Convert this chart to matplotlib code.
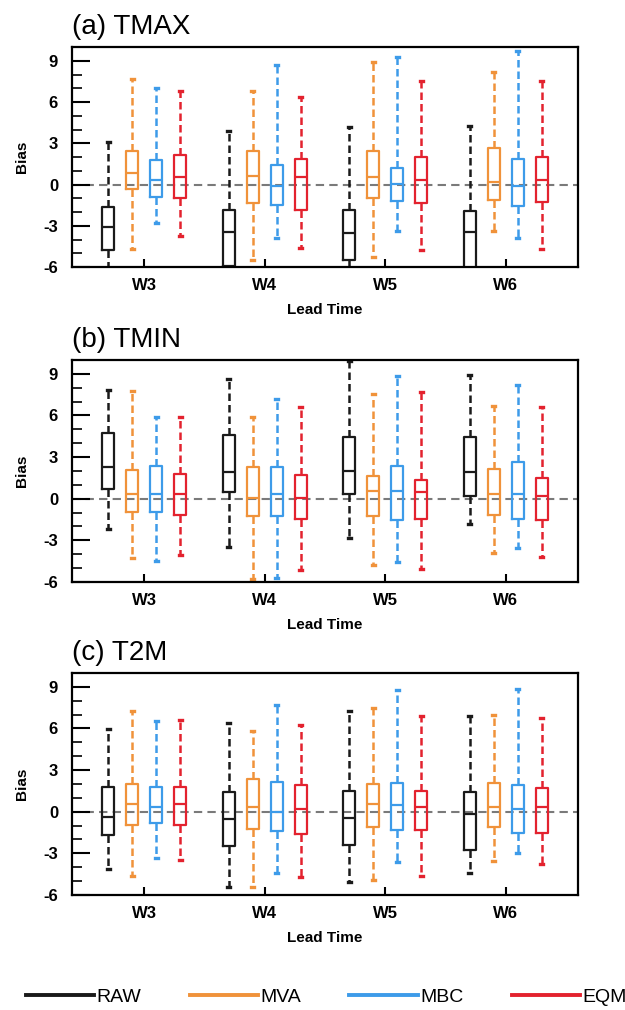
import matplotlib
matplotlib.use('Agg')
from matplotlib import pyplot as plt
from matplotlib.lines import Line2D
from matplotlib.ticker import MultipleLocator

plt.rcParams['font.family'] = ['Liberation Sans', 'DejaVu Sans']

# lead times and methods
leads = ['W3', 'W4', 'W5', 'W6']
methods = ['RAW', 'MVA', 'MBC', 'EQM']
colors = ['#1a1a1a', '#f0923a', '#3d9be9', '#e3222e']

# each entry: (whisker low, q1, median, q3, whisker high) for W3..W6
tmax_raw = [(-7, -4.74, -3.1, -1.64, 3.08), (-7, -5.9, -3.46, -1.84, 3.93),
            (-6.3, -5.52, -3.51, -1.84, 4.17), (-7, -6.2, -3.46, -1.96, 4.29)]
tmax_mva = [(-4.67, -0.31, 0.85, 2.43, 7.68), (-5.47, -1.33, 0.61, 2.47, 6.78),
            (-5.27, -0.96, 0.54, 2.43, 8.89), (-3.41, -1.11, 0.17, 2.67, 8.16)]
tmax_mbc = [(-2.8, -0.92, 0.3, 1.8, 7.03), (-3.87, -1.47, -0.07, 1.41, 8.72),
            (-3.39, -1.23, 0.05, 1.22, 9.25), (-3.87, -1.57, -0.12, 1.85, 9.74)]
tmax_eqm = [(-3.77, -0.96, 0.54, 2.18, 6.78), (-4.6, -1.84, 0.54, 1.85, 6.35),
            (-4.74, -1.35, 0.3, 2.04, 7.51), (-4.67, -1.28, 0.3, 2.04, 7.56)]

tmin_raw = [(-2.17, 0.67, 2.3, 4.73, 7.83), (-3.45, 0.5, 1.96, 4.56, 8.64),
            (-2.84, 0.36, 2.01, 4.44, 9.9), (-1.83, 0.19, 1.89, 4.44, 8.93)]
tmin_mva = [(-4.3, -0.95, 0.31, 2.06, 7.79), (-5.76, -1.27, 0.07, 2.25, 5.9),
            (-4.79, -1.27, 0.55, 1.65, 7.54), (-3.94, -1.19, 0.36, 2.13, 6.67)]
tmin_mbc = [(-4.5, -0.95, 0.36, 2.37, 5.9), (-5.7, -1.27, 0.36, 2.25, 7.16),
            (-4.54, -1.56, 0.55, 2.33, 8.81), (-3.57, -1.44, 0.36, 2.62, 8.2)]
tmin_eqm = [(-4.06, -1.19, 0.36, 1.77, 5.9), (-5.15, -1.44, 0.02, 1.69, 6.62),
            (-5.1, -1.44, 0.48, 1.35, 7.71), (-4.18, -1.56, 0.19, 1.48, 6.62)]

t2m_raw = [(-4.12, -1.65, -0.41, 1.8, 5.96), (-5.44, -2.5, -0.49, 1.39, 6.39),
           (-5.08, -2.43, -0.44, 1.49, 7.24), (-4.43, -2.79, -0.2, 1.44, 6.87)]
t2m_mva = [(-4.6, -0.97, 0.59, 2.0, 7.24), (-5.4, -1.27, 0.35, 2.36, 5.84),
           (-4.91, -1.1, 0.59, 1.97, 7.48), (-3.56, -1.1, 0.35, 2.09, 6.99)]
t2m_mbc = [(-3.34, -0.81, 0.36, 1.8, 6.51), (-4.43, -1.41, -0.05, 2.16, 7.72),
           (-3.63, -1.29, 0.47, 2.04, 8.76), (-2.98, -1.51, 0.16, 1.92, 8.86)]
t2m_eqm = [(-3.51, -0.97, 0.55, 1.8, 6.58), (-4.72, -1.63, 0.23, 1.92, 6.22),
           (-4.6, -1.29, 0.35, 1.51, 6.92), (-3.75, -1.53, 0.35, 1.68, 6.75)]

panels = [('(a) TMAX', [tmax_raw, tmax_mva, tmax_mbc, tmax_eqm]),
          ('(b) TMIN', [tmin_raw, tmin_mva, tmin_mbc, tmin_eqm]),
          ('(c) T2M', [t2m_raw, t2m_mva, t2m_mbc, t2m_eqm])]

fig = plt.figure(figsize=(6.25, 10.1), dpi=100)

# axes rectangles (left, bottom, width, height)
rects = [[0.1152, 0.7356, 0.8096, 0.2178],
         [0.1152, 0.4238, 0.8096, 0.2198],
         [0.1152, 0.1139, 0.8096, 0.2198]]

offsets = [-0.3, -0.1, 0.1, 0.3]

for (title, series), rect in zip(panels, rects):
    ax = fig.add_axes(rect)
    ax.axhline(0, color='#7a7a7a', lw=1.5, ls=(0, (4, 2.5)), zorder=1)
    for m, stats in enumerate(series):
        col = colors[m]
        bx = []
        for s in stats:
            bx.append({'whislo': s[0], 'q1': s[1], 'med': s[2], 'q3': s[3], 'whishi': s[4]})
        pos = [i + 1 + offsets[m] for i in range(len(leads))]
        ax.bxp(bx, positions=pos, widths=0.1, showfliers=False, capwidths=0.025,
               boxprops=dict(color=col, lw=1.6),
               medianprops=dict(color=col, lw=1.6),
               whiskerprops=dict(color=col, lw=1.8, ls=(0, (3, 1.6))),
               capprops=dict(color=col, lw=2.4))
    ax.set_xlim(0.4, 4.6)
    ax.set_ylim(-6, 10)
    ax.set_xticks(range(1, 5))
    ax.set_xticklabels(leads, fontweight='bold', fontsize=12)
    ax.set_yticks([-6, -3, 0, 3, 6, 9])
    ax.set_yticklabels(['-6', '-3', '0', '3', '6', '9'], fontweight='bold', fontsize=12)
    ax.yaxis.set_minor_locator(MultipleLocator(1))
    ax.tick_params(axis='y', which='major', direction='in', length=13, width=1.5, pad=10)
    ax.tick_params(axis='y', which='minor', direction='in', length=7, width=1.2)
    ax.tick_params(axis='x', which='major', direction='in', length=6, width=1.5, pad=8)
    for sp in ax.spines.values():
        sp.set_linewidth(1.6)
    ax.set_ylabel('Bias', fontweight='bold', fontsize=11, labelpad=10)
    ax.set_xlabel('Lead Time', fontweight='bold', fontsize=11, labelpad=7)
    ax.text(0.0, 1.06, title, transform=ax.transAxes, fontsize=20, ha='left', va='baseline')

handles = [Line2D([], [], color=c, lw=2.8) for c in colors]
fig.legend(handles, methods, loc='center', bbox_to_anchor=(0.522, 0.013), ncol=4,
           frameon=False, fontsize=14, handlelength=3.5, handletextpad=0.12,
           columnspacing=2.5)

fig.savefig('out.png', dpi=100)
